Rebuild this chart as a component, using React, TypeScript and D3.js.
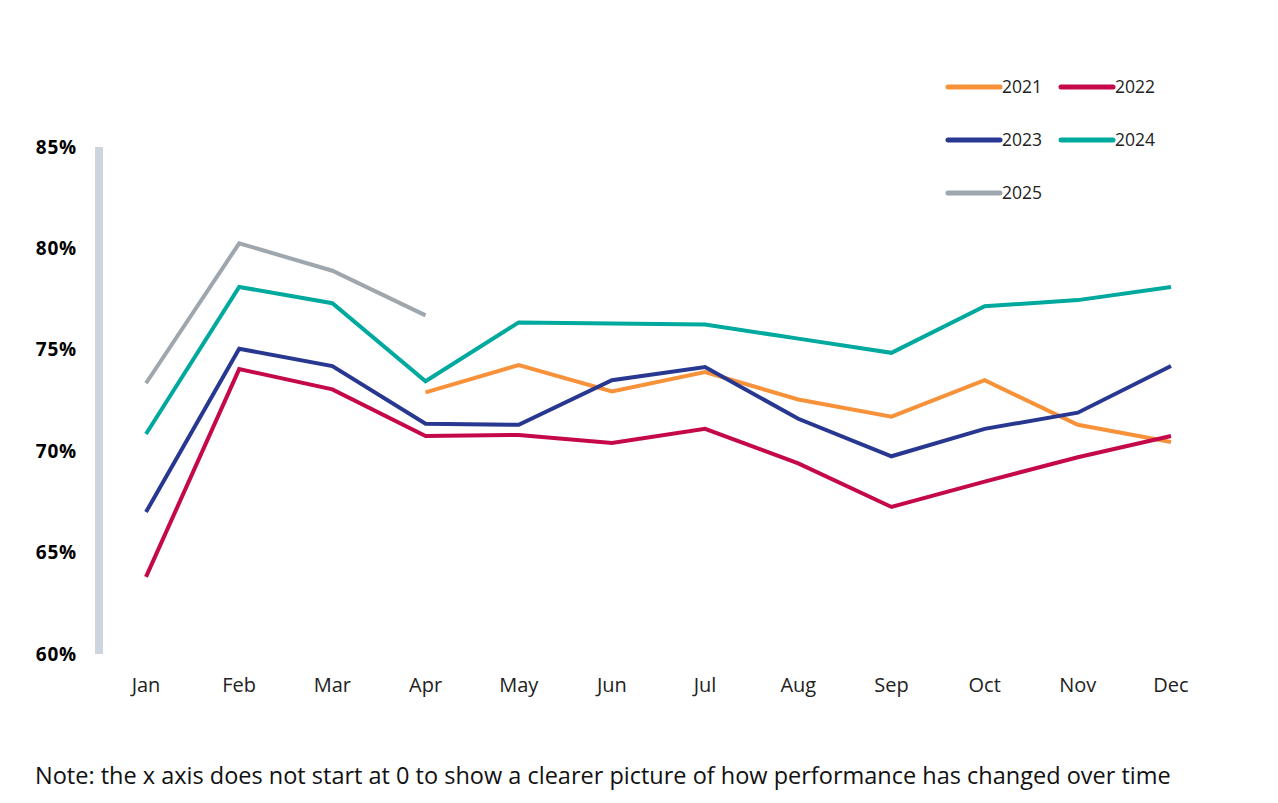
import React from 'react';
import * as d3 from 'd3';

const months = ['Jan', 'Feb', 'Mar', 'Apr', 'May', 'Jun', 'Jul', 'Aug', 'Sep', 'Oct', 'Nov', 'Dec'];
const yTicks = [60, 65, 70, 75, 80, 85];

const v2021: (number | null)[] = [null, null, null, 72.9, 74.25, 72.95, 73.9, 72.55, 71.7, 73.5, 71.3, 70.45];
const v2022: (number | null)[] = [63.8, 74.05, 73.05, 70.75, 70.8, 70.4, 71.1, 69.4, 67.25, 68.5, 69.7, 70.75];
const v2023: (number | null)[] = [67.0, 75.05, 74.2, 71.35, 71.3, 73.5, 74.15, 71.6, 69.75, 71.1, 71.9, 74.2];
const v2024: (number | null)[] = [70.85, 78.1, 77.3, 73.45, 76.35, 76.3, 76.25, 75.55, 74.85, 77.15, 77.45, 78.1];
const v2025: (number | null)[] = [73.35, 80.25, 78.9, 76.7, null, null, null, null, null, null, null, null];

const series = [
  { name: '2021', color: '#F7923A', values: v2021 },
  { name: '2022', color: '#C4084A', values: v2022 },
  { name: '2023', color: '#283891', values: v2023 },
  { name: '2024', color: '#00A99D', values: v2024 },
  { name: '2025', color: '#9EA6AE', values: v2025 },
];

const FONT = '"Open Sans", "Noto Sans", sans-serif';

export default function App() {
  const width = 1278;
  const height = 803;

  const x = d3.scalePoint<string>().domain(months).range([146, 1171]);
  const y = d3.scaleLinear().domain([60, 85]).range([654, 147]);

  const line = d3
    .line<number | null>()
    .defined((d) => d != null)
    .x((_, i) => x(months[i]) as number)
    .y((d) => y(d as number));

  return (
    <svg
      width={width}
      height={height}
      style={{ position: 'absolute', left: 0, top: 0, background: '#fff' }}
      fontFamily={FONT}
    >
      {/* y axis bar */}
      <line x1={99} x2={99} y1={y(85)} y2={y(60)} stroke="#CDD6DE" strokeWidth={8} />

      {yTicks.map((t) => (
        <text
          key={t}
          x={77}
          y={y(t)}
          dy="0.35em"
          textAnchor="end"
          fontSize={19}
          fontWeight={700}
          letterSpacing={0.8}
          fill="#000"
        >
          {t}%
        </text>
      ))}

      {months.map((m) => (
        <text key={m} x={x(m)} y={692} textAnchor="middle" fontSize={20} fill="#222">
          {m}
        </text>
      ))}

      {series.map((s) => (
        <path
          key={s.name}
          d={line(s.values) || ''}
          fill="none"
          stroke={s.color}
          strokeWidth={4}
        />
      ))}

      {/* legend */}
      {series.map((s, i) => {
        const col = i % 2;
        const row = Math.floor(i / 2);
        const lx = 948 + col * 113;
        const ly = 87 + row * 53;
        return (
          <g key={s.name}>
            <line
              x1={lx}
              x2={lx + 52}
              y1={ly}
              y2={ly}
              stroke={s.color}
              strokeWidth={5}
              strokeLinecap="round"
            />
            <text x={lx + 54} y={ly} dy="0.35em" fontSize={17.5} fill="#222">
              {s.name}
            </text>
          </g>
        );
      })}

      <text x={35} y={784} fontSize={23.5} fill="#111">
        Note: the x axis does not start at 0 to show a clearer picture of how performance has changed over time
      </text>
    </svg>
  );
}
